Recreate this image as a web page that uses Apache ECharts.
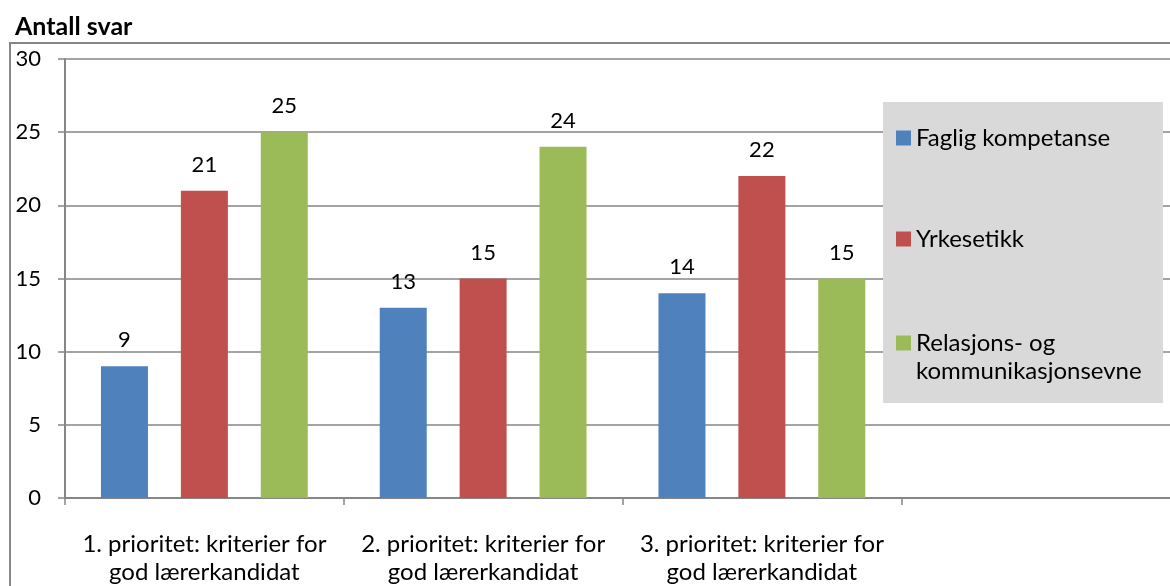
<!DOCTYPE html>
<html>
<head>
<meta charset="utf-8">
<style>
  html, body { margin: 0; padding: 0; background: #ffffff; overflow: hidden; }
  #chart { width: 1180px; height: 586px; }
</style>
<script src="https://cdn.jsdelivr.net/npm/echarts@6/dist/echarts.min.js"></script>
</head>
<body>
<div id="chart"></div>
<script>
// Categories (the fourth slot is left empty on purpose)
const categories = [
  '1. prioritet: kriterier for\ngod lærerkandidat',
  '2. prioritet: kriterier for\ngod lærerkandidat',
  '3. prioritet: kriterier for\ngod lærerkandidat',
  ''
];
const seriesNames = ['Faglig kompetanse', 'Yrkesetikk', 'Relasjons- og\nkommunikasjonsevne'];
const fagligKompetanse = [9, 13, 14, '-'];
const yrkesetikk = [21, 15, 22, '-'];
const relasjonsevne = [25, 24, 15, '-'];
const yTicks = [0, 5, 10, 15, 20, 25, 30];

const colors = ['#4f81bd', '#c0504d', '#9bbb59'];
const FONT = 'Lato, "Open Sans", sans-serif';
const GRAY = '#868686';
const TEXT_SIZE = 24;
const NUM_SIZE = 22;

const chart = echarts.init(document.getElementById('chart'), null, { renderer: 'canvas' });

function legendFor(i, top, extra) {
  return Object.assign({
    show: true,
    orient: 'vertical',
    left: 896,
    top: top,
    padding: 0,
    z: 10,
    itemWidth: 15,
    itemHeight: 15,
    icon: 'rect',
    selectedMode: false,
    data: [{ name: seriesNames[i] }],
    textStyle: { fontFamily: FONT, fontSize: TEXT_SIZE, color: '#000', lineHeight: 28 }
  }, extra || {});
}

const option = {
  animation: false,
  color: colors,
  textStyle: { fontFamily: FONT },
  graphic: [
    {
      type: 'rect', z: -10, silent: true,
      shape: { x: 10, y: 43, width: 1200, height: 600 },
      style: { fill: '#ffffff', stroke: GRAY, lineWidth: 2 }
    },
    {
      type: 'text', left: 15, top: 14,
      style: { text: 'Antall svar', font: 'bold 25px ' + FONT, fill: '#000' }
    },
    {
      type: 'rect', z: 3, silent: true,
      shape: { x: 883, y: 102, width: 280, height: 301 },
      style: { fill: '#d9d9d9' }
    }
  ],
  legend: [
    legendFor(0, 124),
    legendFor(1, 225),
    // Two-line entry: a leading blank line keeps the marker level with the first line
    legendFor(2, 301, { formatter: name => '\u00a0\n' + name })
  ],
  grid: { left: 65, top: 59, width: 1115, height: 439, containLabel: false },
  xAxis: {
    type: 'category',
    data: categories,
    axisLine: { show: true, lineStyle: { color: GRAY, width: 2 } },
    axisTick: { show: true, length: 7, alignWithLabel: false, interval: 0, lineStyle: { color: GRAY, width: 1.5 } },
    axisLabel: { interval: 0, margin: 32, fontSize: TEXT_SIZE, lineHeight: 28, color: '#000', fontFamily: FONT },
    splitLine: { show: false }
  },
  yAxis: {
    type: 'value',
    min: 0, max: 30, interval: 5,
    axisLine: { show: true, lineStyle: { color: GRAY, width: 2 } },
    axisTick: { show: true, length: 7, lineStyle: { color: GRAY, width: 1.5 } },
    axisLabel: {
      margin: 24, fontSize: NUM_SIZE, color: '#000', fontFamily: FONT,
      formatter: v => (yTicks.indexOf(v) >= 0 ? String(v) : '')
    },
    splitLine: { show: true, lineStyle: { color: GRAY, width: 1.5 } }
  },
  series: [fagligKompetanse, yrkesetikk, relasjonsevne].map((d, i) => ({
    name: seriesNames[i],
    type: 'bar',
    data: d,
    barWidth: 47,
    barGap: '70%',
    z: 2,
    itemStyle: { color: colors[i] },
    label: {
      show: true, position: 'top', distance: 15,
      fontSize: NUM_SIZE, color: '#000', fontFamily: FONT
    }
  }))
};

chart.setOption(option);
</script>
</body>
</html>
